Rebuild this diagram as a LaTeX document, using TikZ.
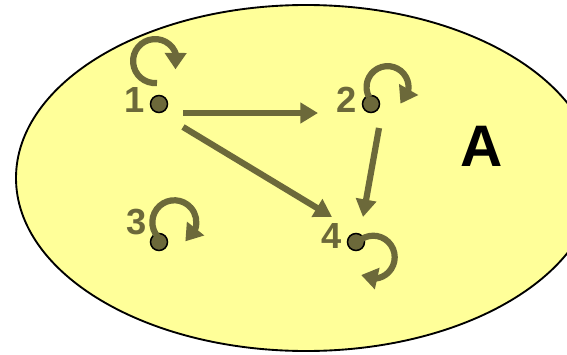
\documentclass[tikz,border=0pt]{standalone}
\usepackage{fontspec}
\setmainfont{Liberation Sans}
\usetikzlibrary{positioning,arrows.meta,bending}
\definecolor{olive}{RGB}{108,105,58}
\definecolor{setfill}{RGB}{255,255,153}

\begin{document}
\begin{tikzpicture}[x=0.03cm, y=0.03cm,
   dot/.style={circle, draw=black, line width=1.3pt, fill=olive, minimum size=14.5pt, inner sep=0pt},
   lbl/.style={text=olive, font=\fontsize{31}{31}\selectfont\bfseries, inner sep=0pt},
   arw/.style={draw=olive, line width=5.3pt, -{Triangle[length=15pt, width=17pt]}},
   loopy/.style={draw=olive, line width=5.3pt, -{Triangle[length=14pt, width=18pt, flex]}}]
  \useasboundingbox (0,0) rectangle (567,354);
  % the set
  \draw[fill=setfill, line width=1.6pt] (306,176) ellipse [x radius=290, y radius=173];
  \node[font=\fontsize{50}{50}\selectfont\bfseries, inner sep=0pt] (setA) at (482,208) {A};

  % states
  \node[dot] (n1) at (159,250) {};
  \node[dot] (n2) at (371,250) {};
  \node[dot] (n3) at (159,112) {};
  \node[dot] (n4) at (356,112) {};
  \node[lbl] (l1) at (135,254) {1};
  \node[lbl] (l2) at (347,254) {2};
  \node[lbl] (l3) at (137,132) {3};
  \node[lbl] (l4) at (332,118) {4};

  % self loops
  \draw[loopy] ([shift={(-2,21)}]n1.center) arc[start angle=275, end angle=-22, radius=22];
  \draw[loopy] ([shift={(-2,7)}]n2.center) arc[start angle=208, end angle=-52, radius=21];
  \draw[loopy] ([shift={(-1,5)}]n3.center) arc[start angle=222, end angle=-60, radius=22];
  \draw[loopy] ([shift={(2,0)}]n4.center) arc[start angle=135, end angle=-124, radius=21.5];

  % transitions
  \draw[arw] ([shift={(24,-9)}]n1.center) -- ([shift={(-53,-9)}]n2.center);
  \draw[arw] ([shift={(24,-23)}]n1.center) -- ([shift={(-24,25)}]n4.center);
  \draw[arw] ([shift={(8,-24)}]n2.center) -- ([shift={(7,25)}]n4.center);
\end{tikzpicture}
\end{document}
